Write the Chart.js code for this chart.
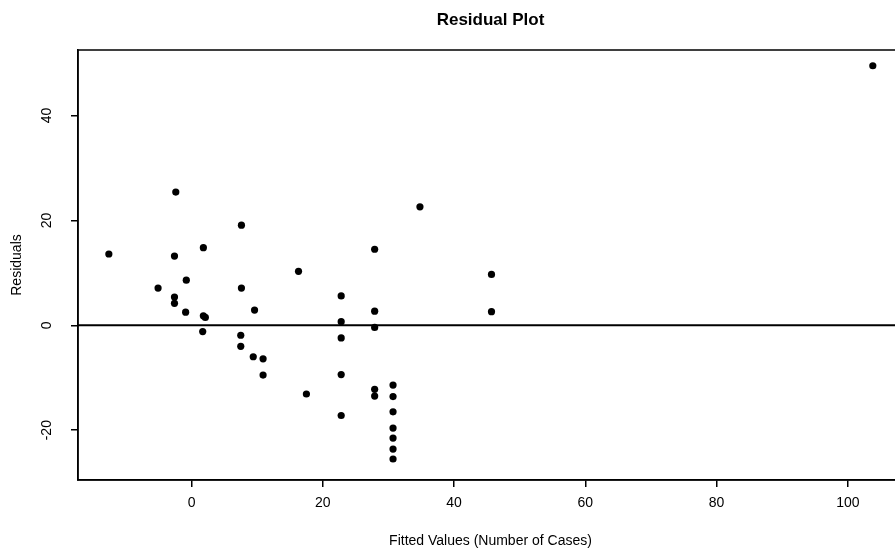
<!DOCTYPE html>
<html>
<head>
<meta charset="utf-8">
<script src="https://cdn.jsdelivr.net/npm/chart.js@4/dist/chart.umd.min.js"></script>
<style>
html,body{margin:0;padding:0;background:#fff;overflow:hidden;}
#wrap{width:910px;height:553px;}
</style>
</head>
<body>
<div id="wrap"><canvas id="c" width="910" height="553"></canvas></div>
<script>
// Fitted values (x) and residuals (y)
const fittedValues = [
  -12.6, -5.1, -2.4, -2.6, -2.6, -2.6, -0.8, -0.9,
  1.8, 1.8, 2.1, 1.7,
  7.6, 7.6, 9.6, 7.5, 7.5, 9.4, 10.9, 10.9,
  16.3, 17.5,
  22.8, 22.8, 22.8, 22.8, 22.8,
  27.9, 27.9, 27.9, 27.9, 27.9,
  30.7, 30.7, 30.7, 30.7, 30.7, 30.7, 30.7,
  34.8, 45.7, 45.7, 103.8
];
const residuals = [
  13.6, 7.1, 25.4, 13.2, 5.4, 4.2, 8.6, 2.5,
  14.8, 1.8, 1.5, -1.2,
  19.1, 7.1, 2.9, -1.9, -4.0, -6.0, -6.4, -9.5,
  10.3, -13.1,
  5.6, 0.7, -2.4, -9.4, -17.2,
  14.5, 2.7, -0.4, -12.2, -13.5,
  -11.4, -13.6, -16.5, -19.6, -21.5, -23.6, -25.5,
  22.6, 9.7, 2.6, 49.5
];
const xTicks = [0, 20, 40, 60, 80, 100];
const yTicks = [-20, 0, 20, 40];
const xRange = [-17.3, 108.4];
const yRange = [-29.5, 52.5];
const zeroLineY = [0, 0];

const chartTitle = 'Residual Plot';
const xTitle = 'Fitted Values (Number of Cases)';
const yTitle = 'Residuals';

const FONT = "'Liberation Sans', Arial, Helvetica, sans-serif";

const points = fittedValues.map((x, i) => ({ x: x, y: residuals[i] }));
const zeroLine = xRange.map((x, i) => ({ x: x, y: zeroLineY[i] }));

const framePlugin = {
  id: 'frame',
  afterLayout(chart) {
    const t = chart.titleBlock;
    if (t) {
      t.left = chart.chartArea.left;
      t.right = chart.chartArea.right;
      t.width = t.right - t.left;
    }
  },
  afterDraw(chart) {
    const { ctx, chartArea: a } = chart;
    ctx.save();
    ctx.strokeStyle = '#000';
    ctx.lineWidth = 1.5;
    ctx.strokeRect(a.left, a.top, a.right - a.left, a.bottom - a.top);
    ctx.restore();
  }
};

new Chart(document.getElementById('c'), {
  type: 'scatter',
  data: {
    datasets: [
      {
        label: 'Residuals',
        data: points,
        pointRadius: 3.6,
        pointHoverRadius: 3.6,
        pointBackgroundColor: '#000',
        pointBorderColor: '#000',
        pointBorderWidth: 0,
        showLine: false
      },
      {
        type: 'line',
        label: 'Zero',
        data: zeroLine,
        borderColor: '#000',
        borderWidth: 2,
        pointRadius: 0,
        fill: false
      }
    ]
  },
  options: {
    responsive: false,
    animation: false,
    events: [],
    layout: { padding: { left: 0, right: 7, top: 0, bottom: 0 } },
    plugins: {
      legend: { display: false },
      tooltip: { enabled: false },
      title: {
        display: true,
        text: chartTitle,
        color: '#000',
        font: { family: FONT, size: 17, weight: 'bold' },
        padding: { top: 10, bottom: 19.6 }
      }
    },
    scales: {
      x: {
        type: 'linear',
        position: 'bottom',
        min: xRange[0],
        max: xRange[1],
        afterBuildTicks: s => { s.ticks = xTicks.map(v => ({ value: v })); },
        afterFit: s => { s.height = 73; },
        ticks: {
          color: '#000',
          font: { family: FONT, size: 14 },
          padding: 8,
          maxRotation: 0,
          minRotation: 0,
          includeBounds: false
        },
        grid: { display: true, drawOnChartArea: false, drawTicks: true, tickLength: 7, color: '#000', lineWidth: 1.5 },
        border: { display: true, color: '#000', width: 1.5 },
        title: {
          display: true,
          text: xTitle,
          color: '#000',
          font: { family: FONT, size: 14 },
          padding: { top: 0, bottom: 3 }
        }
      },
      y: {
        type: 'linear',
        position: 'left',
        min: yRange[0],
        max: yRange[1],
        afterBuildTicks: s => { s.ticks = yTicks.map(v => ({ value: v })); },
        afterFit: s => { s.width = 78; },
        ticks: {
          color: '#000',
          font: { family: FONT, size: 14 },
          padding: 14,
          minRotation: 90,
          maxRotation: 90,
          crossAlign: 'center',
          includeBounds: false
        },
        grid: { display: true, drawOnChartArea: false, drawTicks: true, tickLength: 7, color: '#000', lineWidth: 1.5 },
        border: { display: true, color: '#000', width: 1.5 },
        title: {
          display: true,
          text: yTitle,
          color: '#000',
          font: { family: FONT, size: 14 },
          padding: { top: 9, bottom: 0 }
        }
      }
    }
  },
  plugins: [framePlugin]
});
</script>
</body>
</html>
